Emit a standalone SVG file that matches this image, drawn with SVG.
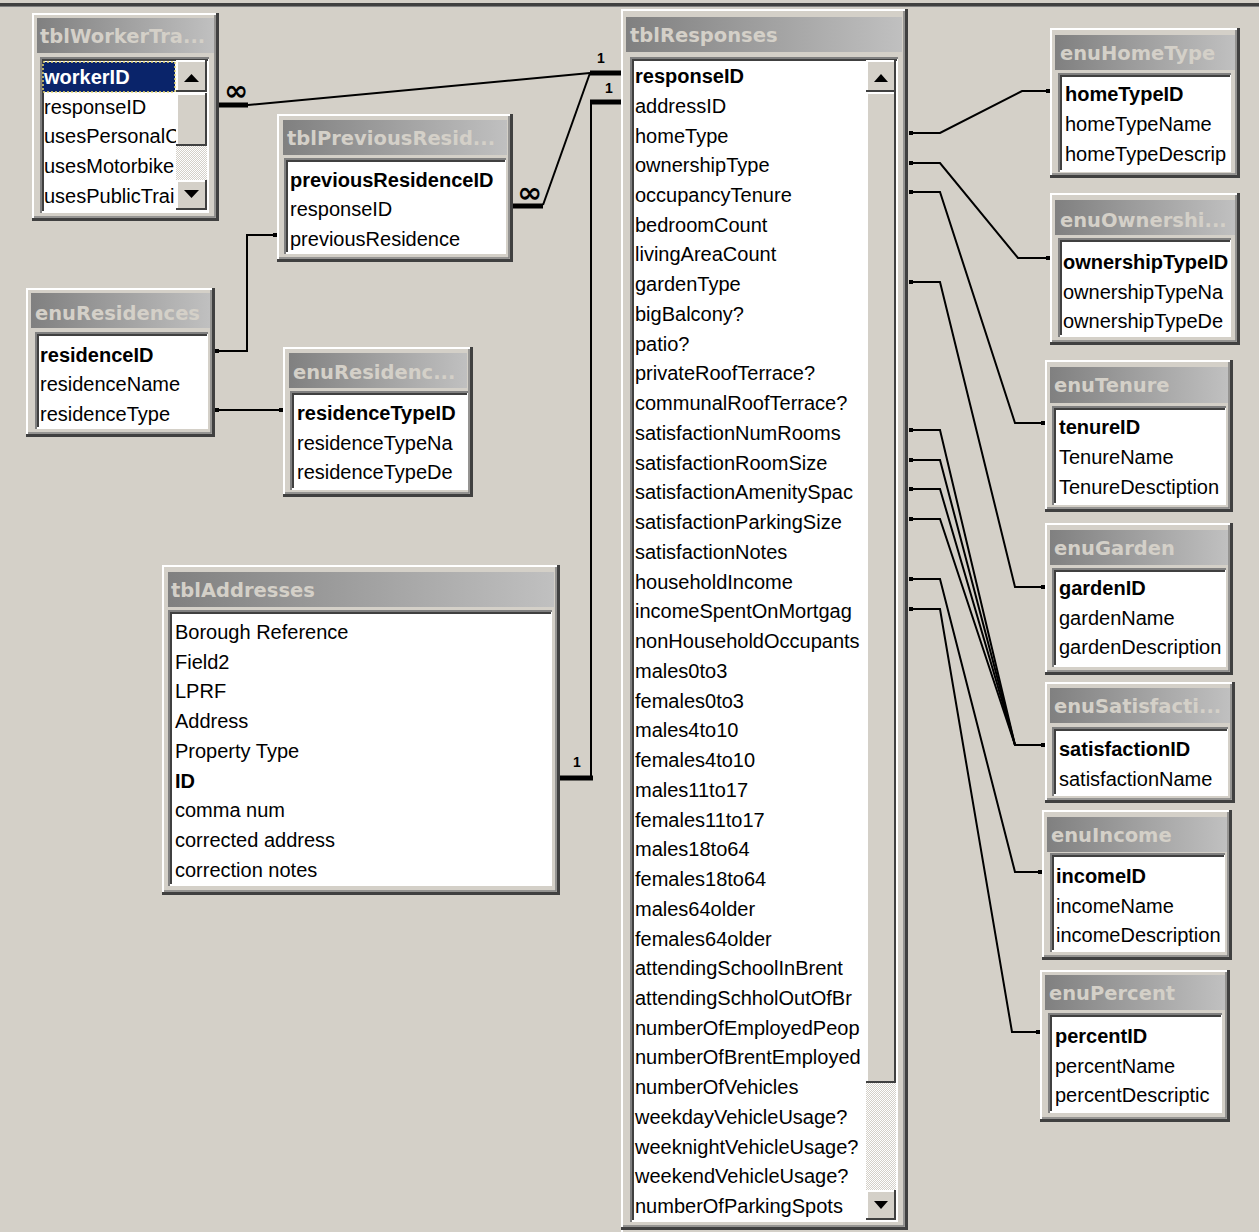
<svg xmlns="http://www.w3.org/2000/svg" width="1259" height="1232" viewBox="0 0 1259 1232">
<defs>
<linearGradient id="cap" x1="0" y1="0" x2="1" y2="0"><stop offset="0" stop-color="#808080"/><stop offset="1" stop-color="#C0C0C0"/></linearGradient>
<pattern id="dith" width="2" height="2" patternUnits="userSpaceOnUse"><rect width="2" height="2" fill="#D4D0C8"/><rect width="1" height="1" fill="#fff"/><rect x="1" y="1" width="1" height="1" fill="#fff"/></pattern>
<clipPath id="c1"><rect x="40" y="57" width="136" height="156"/></clipPath>
<clipPath id="c2"><rect x="284" y="158" width="222" height="96"/></clipPath>
<clipPath id="c3"><rect x="35" y="332" width="173" height="97"/></clipPath>
<clipPath id="c4"><rect x="290" y="391" width="176" height="99"/></clipPath>
<clipPath id="c5"><rect x="168" y="610" width="384" height="276"/></clipPath>
<clipPath id="c6"><rect x="630" y="57" width="236" height="1165"/></clipPath>
<clipPath id="c7"><rect x="1058" y="73" width="171" height="99"/></clipPath>
<clipPath id="c8"><rect x="1058" y="238" width="171" height="99"/></clipPath>
<clipPath id="c9"><rect x="1052" y="406" width="172" height="99"/></clipPath>
<clipPath id="c10"><rect x="1052" y="568" width="172" height="99"/></clipPath>
<clipPath id="c11"><rect x="1052" y="727" width="174" height="69"/></clipPath>
<clipPath id="c12"><rect x="1050" y="853" width="173" height="99"/></clipPath>
<clipPath id="c13"><rect x="1048" y="1013" width="172" height="100"/></clipPath>
</defs>
<style>
.win{fill:#D4D0C8}
.hl{fill:none;stroke:#FFFFFF;stroke-width:2}
.sh{fill:none;stroke:#404040;stroke-width:3}
.sh2{fill:none;stroke:#808080;stroke-width:1.5}
.cap{fill:url(#cap)}
.lb{fill:#FFFFFF}
.lbd{fill:none;stroke:#808080;stroke-width:2}
.lbd2{fill:none;stroke:#404040;stroke-width:2}
.ttl{font-family:"DejaVu Sans",Verdana,sans-serif;font-weight:bold;font-size:19.5px;fill:#D4D0C8}
.fld{font-family:"Liberation Sans",Arial,sans-serif;font-size:20px;fill:#000}
.pk{font-weight:bold}
.btn{fill:#D4D0C8}
.ln{fill:none;stroke:#000;stroke-width:2}
.stub{fill:none;stroke:#000;stroke-width:5}
.dot{fill:#000}
.lbl{font-family:"Liberation Sans",Arial,sans-serif;font-weight:bold;font-size:14px;fill:#000}
.inf{font-family:"DejaVu Sans",sans-serif;font-weight:bold;font-size:28px;fill:#000}
</style>
<rect width="1259" height="1232" fill="#D4D0C8"/>
<rect x="0" y="3" width="1259" height="3" fill="#404040"/>
<rect x="0" y="6" width="1259" height="1" fill="#808080"/>

<g id="connectors">
<line class="stub" x1="219" y1="105" x2="248" y2="105"/>
<line class="ln" x1="248" y1="105" x2="590" y2="73"/>
<line class="stub" x1="590" y1="73" x2="621" y2="73"/>
<text class="inf" x="224" y="100" textLength="24" lengthAdjust="spacingAndGlyphs">∞</text>
<text class="lbl" x="597" y="63">1</text>
<line class="stub" x1="513" y1="206" x2="543" y2="206"/>
<line class="ln" x1="543" y1="205" x2="590" y2="73"/>
<text class="inf" x="517" y="202" textLength="25" lengthAdjust="spacingAndGlyphs">∞</text>
<line class="stub" x1="560" y1="778" x2="593" y2="778"/>
<line class="ln" x1="591" y1="778" x2="591" y2="102"/>
<line class="stub" x1="590" y1="102" x2="621" y2="102"/>
<text class="lbl" x="573" y="767">1</text>
<text class="lbl" x="605" y="93">1</text>
<polyline class="ln" points="215,351 247,351 247,235 277,235"/>
<rect class="dot" x="215" y="349" width="4" height="4"/>
<rect class="dot" x="273" y="233" width="4" height="4"/>
<line class="ln" x1="215" y1="410" x2="283" y2="410"/>
<rect class="dot" x="215" y="408" width="4" height="4"/>
<rect class="dot" x="279" y="408" width="4" height="4"/>
<polyline class="ln" points="910,133 940,133 1022,91 1050,91"/>
<polyline class="ln" points="910,163 940,163 1018,258 1050,258"/>
<polyline class="ln" points="910,192 940,192 1015,423 1045,423"/>
<polyline class="ln" points="910,282 940,282 1015,587 1045,587"/>
<polyline class="ln" points="910,430 940,430 1015,745 1045,745"/>
<polyline class="ln" points="910,460 940,460 1015,745"/>
<polyline class="ln" points="910,489 940,489 1015,745"/>
<polyline class="ln" points="910,519 940,519 1015,745"/>
<polyline class="ln" points="910,579 940,579 1015,872 1042,872"/>
<polyline class="ln" points="910,609 940,609 1012,1032 1040,1032"/>
<g class="dot">
<rect x="909" y="131" width="4" height="4"/><rect x="1046" y="89" width="4" height="4"/>
<rect x="909" y="161" width="4" height="4"/><rect x="1046" y="256" width="4" height="4"/>
<rect x="909" y="190" width="4" height="4"/><rect x="1041" y="421" width="4" height="4"/>
<rect x="909" y="280" width="4" height="4"/><rect x="1041" y="585" width="4" height="4"/>
<rect x="909" y="428" width="4" height="4"/><rect x="1041" y="743" width="4" height="4"/>
<rect x="909" y="458" width="4" height="4"/>
<rect x="909" y="487" width="4" height="4"/>
<rect x="909" y="517" width="4" height="4"/>
<rect x="909" y="577" width="4" height="4"/><rect x="1038" y="870" width="4" height="4"/>
<rect x="909" y="607" width="4" height="4"/><rect x="1036" y="1030" width="4" height="4"/>
</g>
</g>

<g id="tblWorkerTransport">
<rect class="win" x="32" y="13" width="187" height="208"/>
<path class="hl" d="M33 221V14H219"/><path class="sh" d="M32 219.5H217.5V13"/><path class="sh2" d="M34 217H215V15"/>
<rect class="cap" x="37" y="18" width="177" height="35"/>
<text class="ttl" x="40" y="43">tblWorkerTra...</text>
<rect class="lb" x="40" y="57" width="169" height="156"/>
<path class="lbd" d="M41 213V58H209"/><path class="lbd2" d="M43 211V60H208"/>
<rect x="43" y="62" width="132" height="30" fill="#0A246A"/>
<rect x="43" y="62" width="132" height="30" fill="none" stroke="#E8D870" stroke-width="1.5" stroke-dasharray="2,2"/>
<g clip-path="url(#c1)" class="fld">
<text class="pk" x="44" y="84" fill="#FFFFFF" style="fill:#fff">workerID</text>
<text x="44" y="114">responseID</text>
<text x="44" y="143">usesPersonalC</text>
<text x="44" y="173">usesMotorbike</text>
<text x="44" y="203">usesPublicTrai</text>
</g>
<rect x="176" y="146" width="31" height="34" fill="url(#dith)"/>
<rect class="btn" x="176" y="60" width="31" height="32"/><path class="hl" d="M177 91V61H206"/><path d="M176 91H206V60" fill="none" stroke="#404040" stroke-width="2"/>
<path d="M184 82L191.5 74L199 82Z" fill="#000"/>
<rect class="btn" x="176" y="93" width="31" height="53"/><path class="hl" d="M177 145V94H206"/><path d="M176 145H206V93" fill="none" stroke="#404040" stroke-width="2"/>
<rect class="btn" x="176" y="180" width="31" height="30"/><path class="hl" d="M177 209V181H206"/><path d="M176 209H206V180" fill="none" stroke="#404040" stroke-width="2"/>
<path d="M184 190L191.5 198L199 190Z" fill="#000"/>
</g>

<g id="tblPreviousResidence">
<rect class="win" x="277" y="114" width="236" height="148"/>
<path class="hl" d="M278 262V115H513"/><path class="sh" d="M277 260.5H511.5V114"/><path class="sh2" d="M279 258H509V116"/>
<rect class="cap" x="283" y="120" width="224" height="35"/>
<text class="ttl" x="287" y="145">tblPreviousResid...</text>
<rect class="lb" x="284" y="158" width="222" height="96"/>
<path class="lbd" d="M285 254V159H506"/><path class="lbd2" d="M287 252V161H505"/>
<g clip-path="url(#c2)" class="fld">
<text class="pk" x="290" y="187">previousResidenceID</text>
<text x="290" y="216">responseID</text>
<text x="290" y="246">previousResidence</text>
</g>
</g>

<g id="enuResidences">
<rect class="win" x="26" y="288" width="189" height="149"/>
<path class="hl" d="M27 437V289H215"/><path class="sh" d="M26 435.5H213.5V288"/><path class="sh2" d="M28 433H211V290"/>
<rect class="cap" x="31" y="293" width="179" height="35"/>
<text class="ttl" x="35" y="320">enuResidences</text>
<rect class="lb" x="35" y="332" width="173" height="97"/>
<path class="lbd" d="M36 429V333H208"/><path class="lbd2" d="M38 427V335H207"/>
<g clip-path="url(#c3)" class="fld">
<text class="pk" x="40" y="362">residenceID</text>
<text x="40" y="391">residenceName</text>
<text x="40" y="421">residenceType</text>
</g>
</g>

<g id="enuResidenceType">
<rect class="win" x="283" y="347" width="190" height="150"/>
<path class="hl" d="M284 497V348H473"/><path class="sh" d="M283 495.5H471.5V347"/><path class="sh2" d="M285 493H469V349"/>
<rect class="cap" x="289" y="353" width="178" height="35"/>
<text class="ttl" x="293" y="379">enuResidenc...</text>
<rect class="lb" x="290" y="391" width="178" height="99"/>
<path class="lbd" d="M291 490V392H468"/><path class="lbd2" d="M293 488V394H467"/>
<g clip-path="url(#c4)" class="fld">
<text class="pk" x="297" y="420">residenceTypeID</text>
<text x="297" y="450">residenceTypeNa</text>
<text x="297" y="479">residenceTypeDe</text>
</g>
</g>

<g id="tblAddresses">
<rect class="win" x="162" y="565" width="398" height="330"/>
<path class="hl" d="M163 895V566H560"/><path class="sh" d="M162 893.5H558.5V565"/><path class="sh2" d="M164 891H556V567"/>
<rect class="cap" x="168" y="572" width="386" height="35"/>
<text class="ttl" x="171" y="597">tblAddresses</text>
<rect class="lb" x="168" y="610" width="384" height="276"/>
<path class="lbd" d="M169 886V611H552"/><path class="lbd2" d="M171 884V613H551"/>
<g clip-path="url(#c5)" class="fld">
<text x="175" y="639">Borough Reference</text>
<text x="175" y="669">Field2</text>
<text x="175" y="698">LPRF</text>
<text x="175" y="728">Address</text>
<text x="175" y="758">Property Type</text>
<text class="pk" x="175" y="788">ID</text>
<text x="175" y="817">comma num</text>
<text x="175" y="847">corrected address</text>
<text x="175" y="877">correction notes</text>
</g>
</g>

<g id="tblResponses">
<rect class="win" x="621" y="9" width="287" height="1221"/>
<path class="hl" d="M622 1232V10H908"/><path class="sh" d="M621 1228.5H906.5V9"/><path class="sh2" d="M623 1226H904V11"/>
<rect class="cap" x="626" y="17" width="276" height="35"/>
<text class="ttl" x="630" y="42">tblResponses</text>
<rect class="lb" x="630" y="57" width="268" height="1165"/>
<path class="lbd" d="M631 1222V58H898"/><path class="lbd2" d="M633 1220V60H897"/>
<g clip-path="url(#c6)" class="fld">
<text class="pk" x="635" y="83">responseID</text>
<text x="635" y="112.7">addressID</text>
<text x="635" y="142.5">homeType</text>
<text x="635" y="172.2">ownershipType</text>
<text x="635" y="202">occupancyTenure</text>
<text x="635" y="231.7">bedroomCount</text>
<text x="635" y="261.4">livingAreaCount</text>
<text x="635" y="291.2">gardenType</text>
<text x="635" y="320.9">bigBalcony?</text>
<text x="635" y="350.7">patio?</text>
<text x="635" y="380.4">privateRoofTerrace?</text>
<text x="635" y="410.1">communalRoofTerrace?</text>
<text x="635" y="439.9">satisfactionNumRooms</text>
<text x="635" y="469.6">satisfactionRoomSize</text>
<text x="635" y="499.4">satisfactionAmenitySpac</text>
<text x="635" y="529.1">satisfactionParkingSize</text>
<text x="635" y="558.8">satisfactionNotes</text>
<text x="635" y="588.6">householdIncome</text>
<text x="635" y="618.3">incomeSpentOnMortgag</text>
<text x="635" y="648.1">nonHouseholdOccupants</text>
<text x="635" y="677.8">males0to3</text>
<text x="635" y="707.5">females0to3</text>
<text x="635" y="737.3">males4to10</text>
<text x="635" y="767">females4to10</text>
<text x="635" y="796.8">males11to17</text>
<text x="635" y="826.5">females11to17</text>
<text x="635" y="856.2">males18to64</text>
<text x="635" y="886">females18to64</text>
<text x="635" y="915.7">males64older</text>
<text x="635" y="945.5">females64older</text>
<text x="635" y="975.2">attendingSchoolInBrent</text>
<text x="635" y="1004.9">attendingSchholOutOfBr</text>
<text x="635" y="1034.7">numberOfEmployedPeop</text>
<text x="635" y="1064.4">numberOfBrentEmployed</text>
<text x="635" y="1094.2">numberOfVehicles</text>
<text x="635" y="1123.9">weekdayVehicleUsage?</text>
<text x="635" y="1153.6">weeknightVehicleUsage?</text>
<text x="635" y="1183.4">weekendVehicleUsage?</text>
<text x="635" y="1213.1">numberOfParkingSpots</text>
</g>
<rect x="866" y="1083" width="30" height="107" fill="url(#dith)"/>
<rect class="btn" x="866" y="60" width="30" height="32"/><path class="hl" d="M867 91V61H895"/><path d="M866 91H895V60" fill="none" stroke="#404040" stroke-width="2"/>
<path d="M874 82L881 74L888 82Z" fill="#000"/>
<rect class="btn" x="866" y="92" width="30" height="991"/><path class="hl" d="M867 1082V93H895"/><path d="M866 1082H895V92" fill="none" stroke="#404040" stroke-width="2"/>
<rect class="btn" x="866" y="1190" width="30" height="30"/><path class="hl" d="M867 1219V1191H895"/><path d="M866 1219H895V1190" fill="none" stroke="#404040" stroke-width="2"/>
<path d="M874 1201L881 1209L888 1201Z" fill="#000"/>
</g>

<g id="enuHomeType">
<rect class="win" x="1050" y="28" width="190" height="150"/>
<path class="hl" d="M1051 178V29H1240"/><path class="sh" d="M1050 176.5H1238.5V28"/><path class="sh2" d="M1052 174H1236V30"/>
<rect class="cap" x="1055" y="35" width="180" height="35"/>
<text class="ttl" x="1060" y="60">enuHomeType</text>
<rect class="lb" x="1058" y="73" width="173" height="99"/>
<path class="lbd" d="M1059 172V74H1231"/><path class="lbd2" d="M1061 170V76H1230"/>
<g clip-path="url(#c7)" class="fld">
<text class="pk" x="1065" y="101">homeTypeID</text>
<text x="1065" y="131">homeTypeName</text>
<text x="1065" y="161">homeTypeDescrip</text>
</g>
</g>

<g id="enuOwnershipType">
<rect class="win" x="1050" y="193" width="190" height="152"/>
<path class="hl" d="M1051 345V194H1240"/><path class="sh" d="M1050 343.5H1238.5V193"/><path class="sh2" d="M1052 341H1236V195"/>
<rect class="cap" x="1055" y="200" width="180" height="35"/>
<text class="ttl" x="1060" y="227">enuOwnershi...</text>
<rect class="lb" x="1058" y="238" width="173" height="99"/>
<path class="lbd" d="M1059 337V239H1231"/><path class="lbd2" d="M1061 335V241H1230"/>
<g clip-path="url(#c8)" class="fld">
<text class="pk" x="1063" y="269">ownershipTypeID</text>
<text x="1063" y="299">ownershipTypeNa</text>
<text x="1063" y="328">ownershipTypeDe</text>
</g>
</g>

<g id="enuTenure">
<rect class="win" x="1045" y="360" width="188" height="152"/>
<path class="hl" d="M1046 512V361H1233"/><path class="sh" d="M1045 510.5H1231.5V360"/><path class="sh2" d="M1047 508H1229V362"/>
<rect class="cap" x="1050" y="367" width="178" height="36"/>
<text class="ttl" x="1054" y="392">enuTenure</text>
<rect class="lb" x="1052" y="406" width="174" height="99"/>
<path class="lbd" d="M1053 505V407H1226"/><path class="lbd2" d="M1055 503V409H1225"/>
<g clip-path="url(#c9)" class="fld">
<text class="pk" x="1059" y="434">tenureID</text>
<text x="1059" y="464">TenureName</text>
<text x="1059" y="494">TenureDesctiption</text>
</g>
</g>

<g id="enuGarden">
<rect class="win" x="1045" y="523" width="188" height="152"/>
<path class="hl" d="M1046 675V524H1233"/><path class="sh" d="M1045 673.5H1231.5V523"/><path class="sh2" d="M1047 671H1229V525"/>
<rect class="cap" x="1050" y="530" width="178" height="35"/>
<text class="ttl" x="1054" y="555">enuGarden</text>
<rect class="lb" x="1052" y="568" width="174" height="99"/>
<path class="lbd" d="M1053 667V569H1226"/><path class="lbd2" d="M1055 665V571H1225"/>
<g clip-path="url(#c10)" class="fld">
<text class="pk" x="1059" y="595">gardenID</text>
<text x="1059" y="625">gardenName</text>
<text x="1059" y="654">gardenDescription</text>
</g>
</g>

<g id="enuSatisfaction">
<rect class="win" x="1045" y="682" width="190" height="121"/>
<path class="hl" d="M1046 803V683H1235"/><path class="sh" d="M1045 801.5H1233.5V682"/><path class="sh2" d="M1047 799H1231V684"/>
<rect class="cap" x="1050" y="688" width="180" height="35"/>
<text class="ttl" x="1054" y="713">enuSatisfacti...</text>
<rect class="lb" x="1052" y="727" width="176" height="69"/>
<path class="lbd" d="M1053 796V728H1228"/><path class="lbd2" d="M1055 794V730H1227"/>
<g clip-path="url(#c11)" class="fld">
<text class="pk" x="1059" y="756">satisfactionID</text>
<text x="1059" y="786">satisfactionName</text>
</g>
</g>

<g id="enuIncome">
<rect class="win" x="1042" y="810" width="190" height="150"/>
<path class="hl" d="M1043 960V811H1232"/><path class="sh" d="M1042 958.5H1230.5V810"/><path class="sh2" d="M1044 956H1228V812"/>
<rect class="cap" x="1047" y="817" width="180" height="35"/>
<text class="ttl" x="1051" y="842">enuIncome</text>
<rect class="lb" x="1050" y="853" width="175" height="99"/>
<path class="lbd" d="M1051 952V854H1225"/><path class="lbd2" d="M1053 950V856H1224"/>
<g clip-path="url(#c12)" class="fld">
<text class="pk" x="1056" y="883">incomeID</text>
<text x="1056" y="913">incomeName</text>
<text x="1056" y="942">incomeDescription</text>
</g>
</g>

<g id="enuPercent">
<rect class="win" x="1040" y="970" width="190" height="152"/>
<path class="hl" d="M1041 1122V971H1230"/><path class="sh" d="M1040 1120.5H1228.5V970"/><path class="sh2" d="M1042 1118H1226V972"/>
<rect class="cap" x="1045" y="975" width="180" height="35"/>
<text class="ttl" x="1049" y="1000">enuPercent</text>
<rect class="lb" x="1048" y="1013" width="174" height="100"/>
<path class="lbd" d="M1049 1113V1014H1222"/><path class="lbd2" d="M1051 1111V1016H1221"/>
<g clip-path="url(#c13)" class="fld">
<text class="pk" x="1055" y="1043">percentID</text>
<text x="1055" y="1073">percentName</text>
<text x="1055" y="1102">percentDescriptic</text>
</g>
</g>
</svg>
